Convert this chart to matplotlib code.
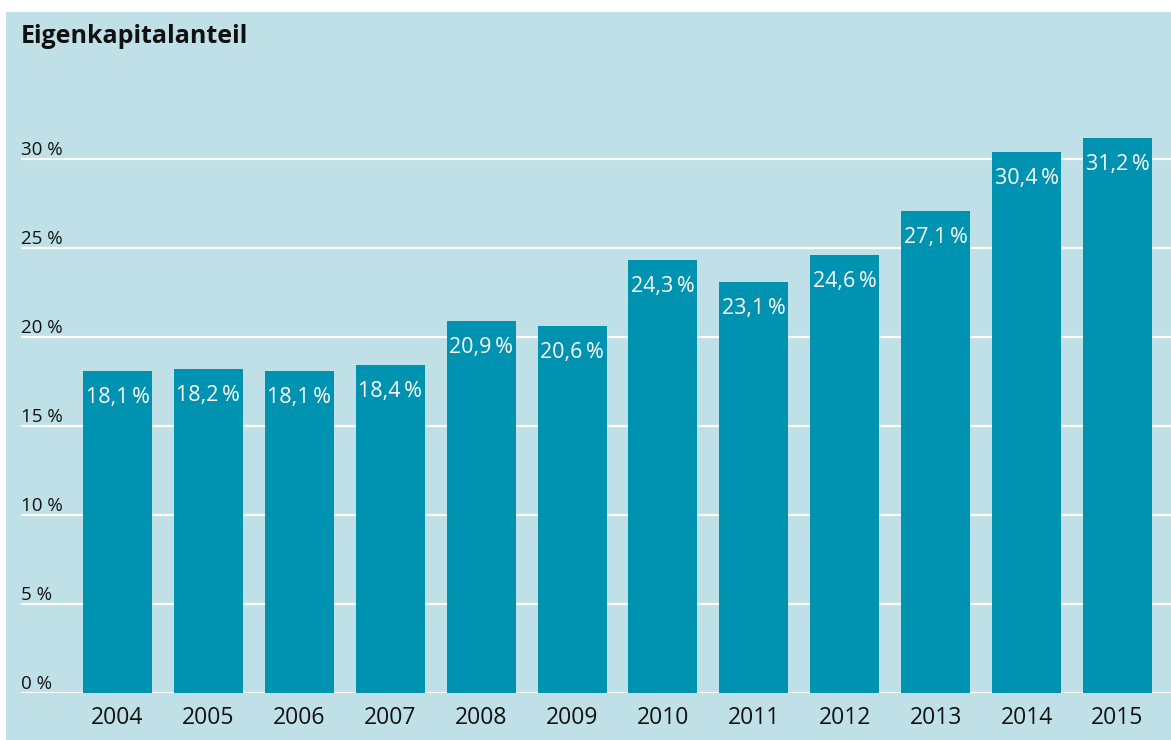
import matplotlib.pyplot as plt
from matplotlib.patches import Rectangle
from matplotlib.transforms import blended_transform_factory

plt.rcParams['font.family'] = ['Open Sans', 'DejaVu Sans']

years = ['2004', '2005', '2006', '2007', '2008', '2009',
         '2010', '2011', '2012', '2013', '2014', '2015']
anteil = [18.1, 18.2, 18.1, 18.4, 20.9, 20.6, 24.3, 23.1, 24.6, 27.1, 30.4, 31.2]
y_ticks = [0, 5, 10, 15, 20, 25, 30]

W, H = 1171, 740
BG = '#c0e0e8'
BAR = '#0092b1'

fig = plt.figure(figsize=(W / 100, H / 100), dpi=100)
fig.patch.set_facecolor('white')
# hellblaue Fläche mit weißem Rand oben/links
fig.add_artist(Rectangle((6 / W, 0), (W - 6) / W, (H - 12) / H,
                         transform=fig.transFigure, facecolor=BG,
                         edgecolor='none', zorder=-10))

# 0 % Linie bei y=693px, 1 % = 17.8px
ymax = 35
ax = fig.add_axes([21 / W, (H - 693) / H, (W - 21) / W, ymax * 17.8 / H])
ax.set_zorder(1)
ax.set_facecolor('none')
ax.set_ylim(0, ymax)
step = 1000 / 11
ax.set_xlim(-(117.5 - 21) / step, (W - 117.5) / step)

for t in y_ticks:
    ax.axhline(t, color='white', lw=1.6, zorder=1)

x = range(len(years))
bars = ax.bar(x, anteil, width=69 / step, color=BAR, zorder=2)

for xi, v in zip(x, anteil):
    ax.annotate(f'{v:.1f}'.replace('.', ',') + '\u2009%', xy=(xi, v),
                xytext=(0, -19), textcoords='offset points',
                ha='center', va='center', color='white', fontsize=15.5, zorder=3)

trans = blended_transform_factory(ax.transAxes, ax.transData)
for t in y_ticks:
    ax.annotate(f'{t} %', xy=(0, t), xycoords=trans, xytext=(0, 3),
                textcoords='offset points', ha='left', va='baseline',
                fontsize=13.5, color='#111111')

ax.set_xticks(list(x))
ax.set_xticklabels(years, fontsize=16.5, color='#111111')
ax.tick_params(axis='x', length=0, pad=9)
ax.set_yticks([])
for s in ax.spines.values():
    s.set_visible(False)

fig.text(21 / W, (H - 43) / H, 'Eigenkapitalanteil', fontsize=18,
         fontweight='bold', ha='left', va='baseline', color='#111111')

fig.savefig('out.png', dpi=100)
